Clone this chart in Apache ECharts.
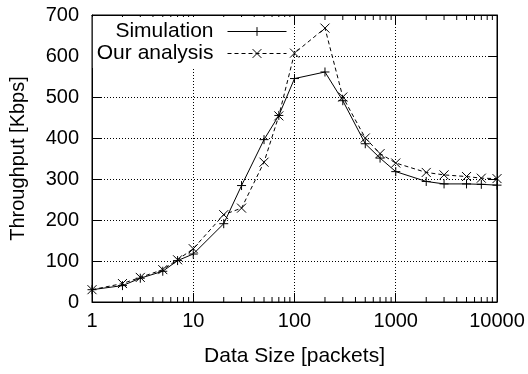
<!DOCTYPE html>
<html>
<head>
<meta charset="utf-8">
<script src="https://cdn.jsdelivr.net/npm/echarts@6/dist/echarts.min.js"></script>
<style>
  html, body { margin: 0; padding: 0; background: #fff; }
  #chart { width: 528px; height: 374px; }
</style>
</head>
<body>
<div id="chart"></div>
<script>
// Data size in packets (log scale)
const dataSizes = [1, 2, 3, 5, 7, 10, 20, 30, 50, 70, 100, 200, 300, 500, 700, 1000, 2000, 3000, 5000, 7000, 10000];
// Throughput [Kbps]
const simulation = [30, 40, 58, 75, 101, 117, 191, 284, 396, 455, 545, 561, 491, 386, 351, 318, 294, 288, 288, 287, 285];
const analysis   = [30, 45, 60, 79, 103, 130, 213, 229, 341, 454, 607, 668, 500, 400, 362, 339, 316, 310, 306, 302, 301];

// Axis ticks
const xTickLabels = ['1', '10', '100', '1000', '10000'];
const xMinorTicks = [2, 3, 4, 5, 6, 7, 8, 9,
                     20, 30, 40, 50, 60, 70, 80, 90,
                     200, 300, 400, 500, 600, 700, 800, 900,
                     2000, 3000, 4000, 5000, 6000, 7000, 8000, 9000];
const yMin = 0, yMax = 700, yStep = 100;

const FONT = 'Liberation Sans, Arial, Helvetica, sans-serif';
const PLUS = 'path://M5,0L5,10M0,5L10,5';
const CROSS = 'path://M0,0L10,10M0,10L10,0';

const chart = echarts.init(document.getElementById('chart'), null, { renderer: 'canvas' });

const logAxisBase = {
  type: 'log',
  logBase: 10,
  min: 1,
  max: 10000,
  axisLine: { onZero: false, lineStyle: { color: '#000', width: 1 } },
  axisTick: { inside: true, length: 9, lineStyle: { color: '#000' } },
  minorTick: { show: false },
  minorSplitLine: { show: false }
};

const valueAxisBase = {
  type: 'value',
  min: yMin,
  max: yMax,
  interval: yStep,
  axisLine: { onZero: false, lineStyle: { color: '#000', width: 1 } },
  axisTick: { inside: true, length: 9, lineStyle: { color: '#000' } }
};

chart.setOption({
  animation: false,
  backgroundColor: '#fff',
  textStyle: { fontFamily: FONT },
  grid: {
    left: 92, right: 31, top: 15, bottom: 72,
    show: true, borderColor: '#000', borderWidth: 1, backgroundColor: 'transparent'
  },
  legend: {
    orient: 'vertical',
    align: 'right',
    right: 237,
    top: 17,
    padding: [4, 4, 4, 4],
    itemGap: 1,
    itemWidth: 59,
    itemHeight: 11,
    backgroundColor: '#fff',
    lineStyle: { width: 1 },
    itemStyle: { borderWidth: 1 },
    textStyle: { fontFamily: FONT, fontSize: 21, color: '#000', lineHeight: 21, padding: [0, 9, 0, 0] },
    data: ['Simulation', 'Our analysis']
  },
  xAxis: [
    Object.assign({}, logAxisBase, {
      position: 'bottom',
      name: 'Data Size [packets]',
      nameLocation: 'middle',
      nameGap: 44,
      nameTextStyle: { fontFamily: FONT, fontSize: 21, color: '#000' },
      axisLabel: {
        fontFamily: FONT, fontSize: 20, color: '#000', margin: 9,
        formatter: function (v) { return xTickLabels[Math.round(Math.log10(v))]; }
      },
      splitLine: { show: true, lineStyle: { color: '#000', width: 1, type: [1, 2] } }
    }),
    Object.assign({}, logAxisBase, {
      position: 'top',
      axisLabel: { show: false },
      splitLine: { show: false }
    })
  ],
  yAxis: [
    Object.assign({}, valueAxisBase, {
      position: 'left',
      name: 'Throughput [Kbps]',
      nameLocation: 'middle',
      nameGap: 64,
      nameTextStyle: { fontFamily: FONT, fontSize: 20, color: '#000' },
      axisLabel: { fontFamily: FONT, fontSize: 20, color: '#000', margin: 13 },
      splitLine: { show: true, lineStyle: { color: '#000', width: 1, type: [1, 2] } }
    }),
    Object.assign({}, valueAxisBase, {
      position: 'right',
      axisLabel: { show: false },
      splitLine: { show: false }
    })
  ],
  series: [
    {
      name: 'Simulation',
      type: 'line',
      z: 5,
      data: dataSizes.map((x, i) => [x, simulation[i]]),
      symbol: PLUS,
      symbolSize: 9,
      showSymbol: true,
      lineStyle: { color: '#000', width: 1, type: 'solid' },
      itemStyle: { color: '#000', borderColor: '#000', borderWidth: 1 }
    },
    {
      name: 'Our analysis',
      type: 'line',
      z: 5,
      data: dataSizes.map((x, i) => [x, analysis[i]]),
      symbol: CROSS,
      symbolSize: 9,
      showSymbol: true,
      lineStyle: { color: '#000', width: 1, type: [4, 3] },
      itemStyle: { color: '#000', borderColor: '#000', borderWidth: 1 }
    },
    {
      // minor ticks of the log axis, bottom and top edges
      name: 'minor',
      type: 'custom',
      silent: true,
      z: 3,
      data: xMinorTicks.map(v => [v, yMin]),
      encode: { x: 0, y: 1 },
      renderItem: function (params, api) {
        const x = api.value(0);
        const b = api.coord([x, yMin]);
        const t = api.coord([x, yMax]);
        const st = { stroke: '#000', lineWidth: 1 };
        return {
          type: 'group',
          children: [
            { type: 'line', shape: { x1: b[0], y1: b[1], x2: b[0], y2: b[1] - 5 }, style: st },
            { type: 'line', shape: { x1: t[0], y1: t[1], x2: t[0], y2: t[1] + 5 }, style: st }
          ]
        };
      }
    }
  ]
});
</script>
</body>
</html>
